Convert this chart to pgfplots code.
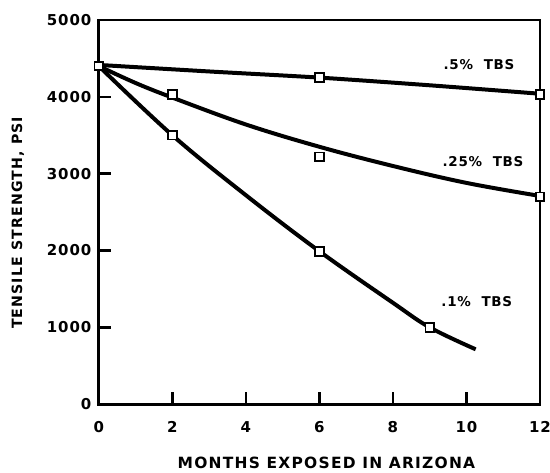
\documentclass[border=0pt]{standalone}
\usepackage{fontspec}
\setmainfont{DejaVu Sans}
\usepackage{pgfplots}
\pgfplotsset{compat=1.18}
\newfontfamily\tickfont[LetterSpace=6]{DejaVu Sans}
\newfontfamily\lblfont[LetterSpace=8]{DejaVu Sans}
\newfontfamily\curvefont[LetterSpace=5]{DejaVu Sans}

% fitted curves (smooth) and measured points
\pgfplotstableread{
x y
0 4415
3 4330
6 4250
9 4150
12 4040
}\curveA
\pgfplotstableread{
x y
0 4400
6 4250
12 4030
}\ptsA
\pgfplotstableread{
x y
0 4400
1 4180
2 3990
4 3640
6 3350
8 3100
10 2880
12 2710
}\curveB
\pgfplotstableread{
x y
0 4400
2 4030
6 3220
12 2700
}\ptsB
\pgfplotstableread{
x y
0 4400
2 3500
4 2720
6 1990
8 1320
9 1000
10.25 715
}\curveC
\pgfplotstableread{
x y
0 4400
2 3500
6 1990
9 1000
}\ptsC

\begin{document}
\begin{tikzpicture}
\useasboundingbox (-99pt,-68pt) rectangle (452pt,405pt);
\begin{axis}[
  at={(0,0)}, anchor=south west,
  scale only axis, width=442pt, height=385pt,
  xmin=0, xmax=12, ymin=0, ymax=5000,
  xtick={0,2,...,12}, ytick={0,1000,...,5000},
  tick pos=left, tick align=inside,
  major tick length=12pt,
  every tick/.style={black, line width=2.4pt},
  axis line style={line width=2.8pt},
  /pgf/number format/assume math mode=true,
  /pgf/number format/set thousands separator={},
  ticklabel style={font=\tickfont\bfseries\fontsize{15}{17}\selectfont},
  xticklabel style={yshift=-14pt},
  yticklabel style={xshift=-4pt},
  xlabel={MONTHS EXPOSED IN ARIZONA},
  ylabel={TENSILE STRENGTH, PSI},
  xlabel style={font=\lblfont\bfseries\fontsize{15.5}{17}\selectfont,
    at={(axis description cs:0.516,-0.152)}, anchor=center},
  ylabel style={font=\lblfont\bfseries\fontsize{14.2}{16}\selectfont,
    at={(axis description cs:-0.1833,0.472)}, anchor=center},
  clip=false,
]
\addplot[black, line width=4pt, smooth] table {\curveA};
\addplot[black, line width=4pt, smooth, tension=0.6] table {\curveB};
\addplot[black, line width=4pt, smooth, tension=0.6] table {\curveC};
\addplot[only marks, mark=square*, mark size=4.3pt,
  mark options={fill=white, draw=black, line width=1.8pt}] table {\ptsA};
\addplot[only marks, mark=square*, mark size=4.3pt,
  mark options={fill=white, draw=black, line width=1.8pt}] table {\ptsB};
\addplot[only marks, mark=square*, mark size=4.3pt,
  mark options={fill=white, draw=black, line width=1.8pt}] table {\ptsC};
\begin{scope}[every node/.style={font=\curvefont\bfseries\fontsize{13.5}{15}\selectfont}]
\node at (axis cs:10.34,4416) {.5\%\ \ TBS};
\node at (axis cs:10.45,3156) {.25\%\ \ TBS};
\node at (axis cs:10.28,1338) {.1\%\ \ TBS};
\end{scope}
\end{axis}
\end{tikzpicture}
\end{document}
